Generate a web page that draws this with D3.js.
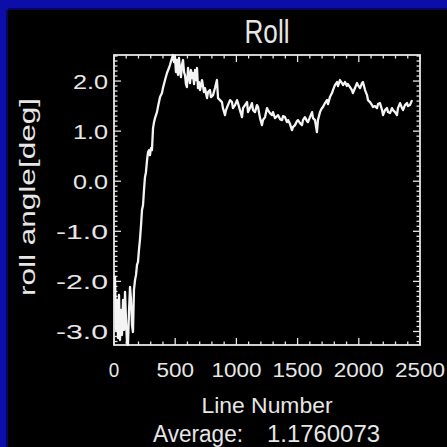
<!DOCTYPE html>
<html>
<head>
<meta charset="utf-8">
<script src="https://cdn.jsdelivr.net/npm/d3@7"></script>
<style>
  html, body { margin: 0; padding: 0; background: #000; }
  svg { display: block; }
</style>
</head>
<body>
<script>
// Roll angle per scan line
const lineNumber = [8,16,25,33,41,49,57,65,74,82,90,98,106,114,123,131,139,147,155,163,172,180,188,196,204,212,221,229,237,245,253,261,270,278,286,294,302,310,319,327,335,351,359,376,392,400,417,433,449,457,474,482,490,498,506,515,523,531,539,547,555,564,572,580,588,596,605,613,621,629,637,645,654,662,670,678,686,694,703,711,719,727,735,743,760,768,784,792,809,825,841,850,866,882,890,907,915,931,948,964,972,989,1005,1013,1029,1046,1054,1070,1087,1095,1111,1127,1136,1152,1168,1177,1193,1209,1217,1234,1250,1258,1274,1291,1299,1315,1332,1340,1356,1373,1381,1397,1413,1422,1438,1454,1462,1479,1495,1503,1520,1536,1544,1560,1577,1585,1601,1618,1626,1642,1650,1658,1666,1683,1699,1707,1724,1740,1748,1764,1781,1789,1805,1822,1830,1846,1862,1871,1887,1903,1911,1928,1944,1952,1969,1985,1993,2010,2026,2034,2051,2067,2075,2092,2108,2116,2132,2149,2157,2173,2190,2198,2214,2230,2239,2255,2271,2279,2296,2312,2320,2337,2353,2361,2377,2394,2402,2418,2435];
const rollDeg = [-1.89,-2.97,-2.37,-3.13,-2.27,-3.17,-2.57,-3.07,-2.37,-2.97,-2.21,-2.77,-3.21,-3.27,-2.57,-2.11,-2.37,-2.87,-3.01,-2.17,-1.97,-1.87,-1.67,-1.61,-1.37,-1.17,-0.87,-0.57,-0.48,-0.18,0.08,0.18,0.42,0.58,0.62,0.52,0.66,0.62,1.06,1.18,1.26,1.38,1.48,1.68,1.76,1.86,2.02,2.16,2.26,2.32,2.46,2.52,2.38,2.50,2.18,2.42,2.12,2.46,2.22,2.08,2.32,2.42,2.18,2.12,1.94,1.88,2.26,2.10,1.96,2.22,2.06,2.16,1.94,2.22,2.02,2.26,1.86,1.98,1.82,1.92,2.02,1.90,1.78,1.86,1.66,1.78,1.82,1.68,1.72,1.86,2.02,1.66,1.62,1.58,1.46,1.32,1.42,1.52,1.62,1.58,1.46,1.52,1.62,1.56,1.42,1.28,1.46,1.52,1.58,1.38,1.46,1.56,1.42,1.38,1.52,1.48,1.26,1.12,1.22,1.28,1.46,1.42,1.36,1.32,1.38,1.26,1.30,1.32,1.24,1.22,1.30,1.28,1.18,1.22,1.14,1.02,1.08,1.12,1.20,1.22,1.16,1.12,1.22,1.28,1.20,1.18,1.28,1.38,1.26,1.22,1.10,0.98,1.22,1.38,1.46,1.48,1.56,1.62,1.54,1.68,1.76,1.82,1.92,1.98,1.90,2.02,1.96,1.92,1.98,1.90,1.94,1.88,1.82,1.76,1.86,1.96,1.92,1.86,1.96,1.98,1.82,1.72,1.62,1.58,1.52,1.48,1.50,1.46,1.54,1.56,1.42,1.32,1.42,1.46,1.38,1.36,1.46,1.42,1.38,1.32,1.46,1.56,1.46,1.42,1.52,1.56,1.50,1.52,1.62];

const xMajorTicks = [0, 500, 1000, 1500, 2000, 2500];
const xTickLabels = ["0", "500", "1000", "1500", "2000", "2500"];
const yMajorTicks = [-3, -2, -1, 0, 1, 2];
const yTickLabels = ["-3.0", "-2.0", "-1.0", "0.0", "1.0", "2.0"];
const xMinorStep = 100;
const yMinorStep = 0.1;

const titleText = "Roll";
const xTitle = "Line Number";
const yTitle = "roll angle[deg]";
const averageLabel = "Average:";
const averageValue = "1.1760073";

const W = 447, H = 447;
const plot = { left: 114, right: 420, top: 55, bottom: 345 };
const fg = "#e6e6e6";
const font = "'Liberation Sans', 'DejaVu Sans', sans-serif";

const x = d3.scaleLinear().domain([0, 2500]).range([plot.left, plot.right]);
const y = d3.scaleLinear().domain([-3.27, 2.52]).range([plot.bottom, plot.top]);

const svg = d3.select("body").append("svg")
  .attr("width", W).attr("height", H);

svg.append("rect").attr("width", W).attr("height", H).attr("fill", "#000");

// window frame strips (top and left)
svg.append("rect").attr("x", 0).attr("y", 0).attr("width", W).attr("height", 10).attr("fill", "#0d0da8");
svg.append("rect").attr("x", 0).attr("y", 0).attr("width", 8).attr("height", H).attr("fill", "#0d0da8");
svg.append("rect").attr("x", 8).attr("y", 8).attr("width", W - 8).attr("height", 2).attr("fill", "#06065e");
svg.append("rect").attr("x", 6).attr("y", 10).attr("width", 2).attr("height", H - 10).attr("fill", "#06065e");

// text width estimate for the narrow stroke-font look
const charW = { ".": 10, "-": 17 };
const textW = s => s.split("").reduce((a, c) => a + (charW[c] || 12.5), 0);

// minor ticks on all four sides
const xMinor = d3.range(0, 2500 + 1, xMinorStep).filter(v => v % 500 !== 0);
const yMinor = d3.range(-3.2, 2.5 + 1e-9, yMinorStep)
  .map(v => +v.toFixed(1)).filter(v => Math.abs(v - Math.round(v)) > 1e-6);

const ticks = svg.append("g").attr("stroke", fg).attr("stroke-width", 1.3);
const minorLen = 3.5, majorLen = 7;

xMinor.forEach(v => {
  ticks.append("line").attr("x1", x(v)).attr("x2", x(v)).attr("y1", plot.bottom).attr("y2", plot.bottom - minorLen);
  ticks.append("line").attr("x1", x(v)).attr("x2", x(v)).attr("y1", plot.top).attr("y2", plot.top + minorLen);
});
xMajorTicks.forEach(v => {
  ticks.append("line").attr("x1", x(v)).attr("x2", x(v)).attr("y1", plot.bottom).attr("y2", plot.bottom - majorLen);
  ticks.append("line").attr("x1", x(v)).attr("x2", x(v)).attr("y1", plot.top).attr("y2", plot.top + majorLen);
});
yMinor.forEach(v => {
  ticks.append("line").attr("x1", plot.left).attr("x2", plot.left + minorLen).attr("y1", y(v)).attr("y2", y(v));
  ticks.append("line").attr("x1", plot.right).attr("x2", plot.right - minorLen).attr("y1", y(v)).attr("y2", y(v));
});
yMajorTicks.forEach(v => {
  ticks.append("line").attr("x1", plot.left).attr("x2", plot.left + majorLen).attr("y1", y(v)).attr("y2", y(v));
  ticks.append("line").attr("x1", plot.right).attr("x2", plot.right - majorLen).attr("y1", y(v)).attr("y2", y(v));
});

// plot frame
svg.append("rect")
  .attr("x", plot.left).attr("y", plot.top)
  .attr("width", plot.right - plot.left).attr("height", plot.bottom - plot.top)
  .attr("fill", "none").attr("stroke", fg).attr("stroke-width", 1.8);

// data line
const line = d3.line().x((d, i) => x(lineNumber[i])).y(d => y(d));
svg.append("path")
  .datum(rollDeg)
  .attr("d", line)
  .attr("fill", "none")
  .attr("stroke", "#f4f4f4")
  .attr("stroke-width", 2.3)
  .attr("stroke-linejoin", "round");

// tick labels
const lab = svg.append("g").attr("fill", fg).attr("font-family", font).attr("font-size", 20);
yMajorTicks.forEach((v, i) => {
  lab.append("text")
    .attr("x", 108).attr("y", y(v) + 8)
    .attr("text-anchor", "end")
    .attr("textLength", textW(yTickLabels[i]))
    .attr("lengthAdjust", "spacingAndGlyphs")
    .text(yTickLabels[i]);
});
xMajorTicks.forEach((v, i) => {
  lab.append("text")
    .attr("x", x(v)).attr("y", 377)
    .attr("text-anchor", "middle")
    .attr("textLength", textW(xTickLabels[i]) - (xTickLabels[i].length === 1 ? 2 : 0))
    .attr("lengthAdjust", "spacingAndGlyphs")
    .text(xTickLabels[i]);
});

// title
svg.append("text")
  .attr("x", (plot.left + plot.right) / 2).attr("y", 43)
  .attr("text-anchor", "middle")
  .attr("fill", fg).attr("font-family", font).attr("font-size", 33)
  .attr("textLength", 45).attr("lengthAdjust", "spacingAndGlyphs")
  .text(titleText);

// x axis title
svg.append("text")
  .attr("x", 267).attr("y", 413)
  .attr("text-anchor", "middle")
  .attr("fill", fg).attr("font-family", font).attr("font-size", 22)
  .attr("textLength", 131).attr("lengthAdjust", "spacingAndGlyphs")
  .text(xTitle);

// average annotation
svg.append("text")
  .attr("x", 153).attr("y", 442)
  .attr("fill", fg).attr("font-family", font).attr("font-size", 23)
  .attr("textLength", 90).attr("lengthAdjust", "spacingAndGlyphs")
  .text(averageLabel);
svg.append("text")
  .attr("x", 267).attr("y", 442)
  .attr("fill", fg).attr("font-family", font).attr("font-size", 23)
  .attr("textLength", 113).attr("lengthAdjust", "spacingAndGlyphs")
  .text(averageValue);

// y axis title
svg.append("text")
  .attr("transform", "translate(35,197) rotate(-90)")
  .attr("text-anchor", "middle")
  .attr("fill", fg).attr("font-family", font).attr("font-size", 22)
  .attr("textLength", 198).attr("lengthAdjust", "spacingAndGlyphs")
  .text(yTitle);
</script>
</body>
</html>
